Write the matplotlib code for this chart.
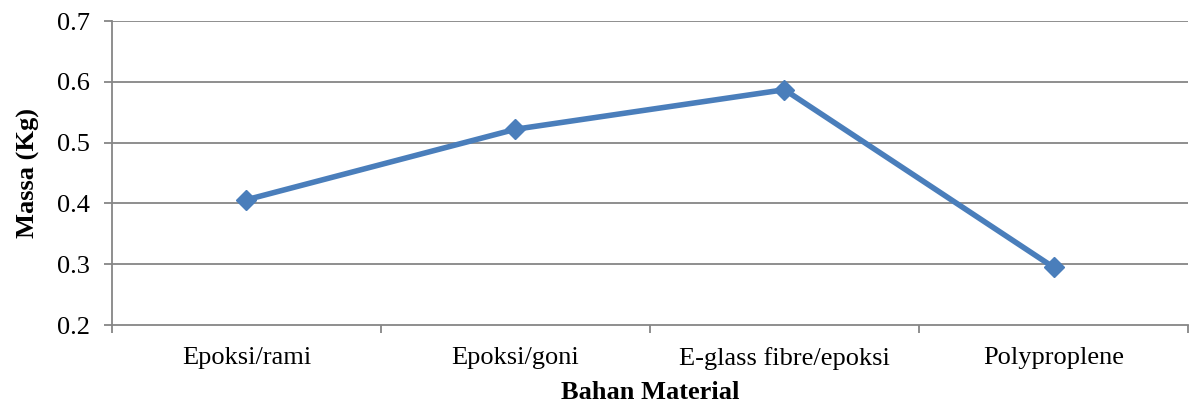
import matplotlib
matplotlib.use("Agg")
import matplotlib.pyplot as plt
import numpy as np

categories = ["Epoksi/rami", "Epoksi/goni", "E-glass fibre/epoksi", "Polyproplene"]
massa = [0.406, 0.522, 0.587, 0.295]
yticks = [0.2, 0.3, 0.4, 0.5, 0.6, 0.7]

plt.rcParams['font.family'] = ['Liberation Serif', 'DejaVu Serif']

fig = plt.figure(figsize=(11.91, 4.04), dpi=100)
ax = fig.add_axes([0.094, 0.1955, 0.9035, 0.7525])

x = np.arange(len(categories))
ax.plot(x, massa, color="#4A7EBB", lw=4.0, marker="D", markersize=10,
        solid_joinstyle="miter", zorder=3)

grid_col = "#868686"
ax.set_ylim(0.2, 0.7)
ax.set_xlim(-0.5, len(categories) - 0.5)
ax.set_yticks(yticks)
ax.set_yticklabels([f"{v:.1f}" for v in yticks])
for v in yticks[1:]:
    ax.axhline(v, color=grid_col, lw=1.3, zorder=1)

ax.set_xticks(np.arange(-0.5, len(categories), 1.0))
ax.set_xticklabels([])
ax.set_xticks(x, minor=True)
ax.set_xticklabels(categories, minor=True)
ax.tick_params(axis="x", which="minor", length=0, labelsize=19, pad=16, colors="black")
ax.tick_params(axis="x", which="major", length=6, width=1.3, color=grid_col)
ax.tick_params(axis="y", length=6, width=1.3, color=grid_col, labelsize=19, pad=10)

for s in ["top", "right"]:
    ax.spines[s].set_visible(False)
for s in ["left", "bottom"]:
    ax.spines[s].set_color(grid_col)
    ax.spines[s].set_linewidth(1.3)

ax.set_ylabel("Massa (Kg)", fontsize=19, fontweight="bold", labelpad=12)
ax.set_xlabel("Bahan Material", fontsize=19, fontweight="bold", labelpad=8)

fig.savefig("out.png", dpi=100)
